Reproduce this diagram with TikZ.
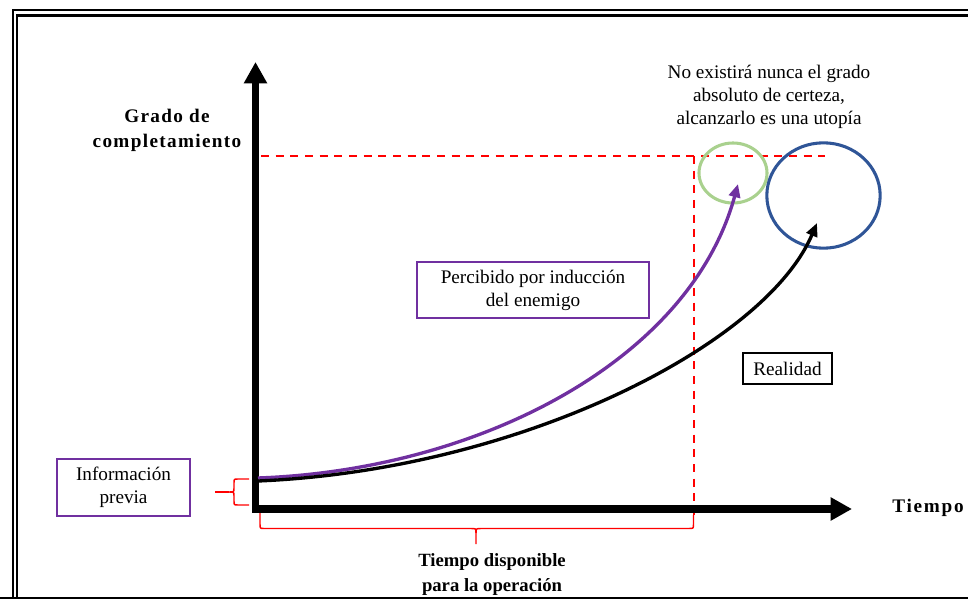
\documentclass[tikz,border=0pt]{standalone}
\usepackage{fontspec}
\setmainfont{Liberation Serif}
\usetikzlibrary{arrows.meta,shapes.geometric}
\definecolor{purp}{HTML}{7030A0}
\definecolor{lgreen}{HTML}{A9D18E}
\definecolor{dblue}{HTML}{2F5597}
\tikzset{
  txt/.style={font=\fontsize{14.4}{17.25}\selectfont, align=center, inner sep=0pt},
  bold/.style={font=\fontsize{14.4}{18.75}\selectfont\bfseries, align=center, inner sep=0pt},
  boxp/.style={txt, draw=purp, line width=2.2pt},
  boxk/.style={txt, draw=black, line width=2.2pt},
  frameline/.style={line width=1.6pt},
  guide/.style={red, line width=1.5pt, dash pattern=on 6pt off 5pt},
  bracered/.style={red, line width=1.1pt, line join=round},
  axis/.style={line width=5.3pt, line join=miter, {Triangle[length=16pt,width=16.5pt]}-{Triangle[length=16pt,width=16.5pt]}},
  curve/.style={line width=2.5pt, -{Triangle[length=10pt,width=8.5pt]}},
}
\begin{document}
\begin{tikzpicture}[x=0.75pt,y=-0.75pt]
\useasboundingbox (0,0) rectangle (968,599);
% frame
\draw[frameline] (13,599) -- (13,10) -- (975,10);
\draw[frameline] (17,598) -- (17,15.5) -- (975,15.5);
\draw[line width=1.2pt] (0,598) -- (975,598);

% guides
\coordinate (hL) at (261,156);
\coordinate (hR) at (825,156);
\coordinate (vT) at (693.5,156);
\coordinate (vB) at (693.5,515);
\draw[guide] (hL) -- (hR);
\draw[guide] (vT) -- (vB);

% axes
\coordinate (ytop) at (255.5,62);
\coordinate (O) at (255.5,509);
\coordinate (xend) at (852,509);
\draw[axis] (ytop) -- (O) -- (xend);

% ellipses
\node (eg) [ellipse, draw=lgreen, line width=2.3pt, minimum width=51pt, minimum height=45pt, inner sep=0pt] at (733,173) {};
\node (eb) [ellipse, draw=dblue, line width=2.3pt, minimum width=85pt, minimum height=79pt, inner sep=0pt] at (823.5,195.5) {};

% curves
\coordinate (ps) at (258,478);
\coordinate (pe) at (738,184);
\coordinate (ks) at (258,481);
\coordinate (ke) at (817,223);
\draw[curve, purp] (ps) .. controls (480,470) and (690,360) .. (pe);
\draw[curve, black] (ks) .. controls (520,470) and (765,345) .. (ke);

% braces
\coordinate (lbt) at (249,479);
\coordinate (lbb) at (249,505);
\coordinate (lbtip) at (215,492);
\draw[bracered] (lbt) -- (238,479) .. controls (234,479) .. (234,483) -- (234,488)
  .. controls (234,492) .. (229,492) .. controls (234,492) .. (234,496) -- (234,501)
  .. controls (234,505) .. (238,505) -- (lbb);
\draw[bracered] (229,492) -- (lbtip);

\coordinate (bbl) at (260,513);
\coordinate (bbr) at (693.5,515);
\coordinate (bbtip) at (476,544);
\draw[bracered] (bbl) -- (260,524) .. controls (260,528.5) .. (264,528.5) -- (471,528.5)
  .. controls (476,528.5) .. (476,533) -- (bbtip);
\draw[bracered] (476,533) .. controls (476,528.5) .. (481,528.5) -- (689,528.5)
  .. controls (693.5,528.5) .. (693.5,524) -- (bbr);

% labels
\node (ylab) [bold] at (167,130.5) {\addfontfeature{LetterSpace=7}Grado de\\\addfontfeature{LetterSpace=7}completamiento};
\node (xlab) [bold] at (928,508) {\addfontfeature{LetterSpace=9}Tiempo};
\node (tdisp) [bold, font=\fontsize{14}{18.75}\selectfont\bfseries] at (492,574.5) {Tiempo disponible\\para la operación};
\node (note) [txt] at (769,96.5) {No existirá nunca el grado\\absoluto de certeza,\\alcanzarlo es una utopía};

\node (perc) [boxp, minimum width=174pt, minimum height=42pt] at (533,290) {Percibido por inducción\\del enemigo};
\node (real) [boxk, minimum width=66.75pt, minimum height=23.25pt] at (787.5,368.5) {Realidad};
\node (info) [boxp, minimum width=99.75pt, minimum height=42.75pt] at (123.5,487.5) {Información\\previa};
\end{tikzpicture}
\end{document}
